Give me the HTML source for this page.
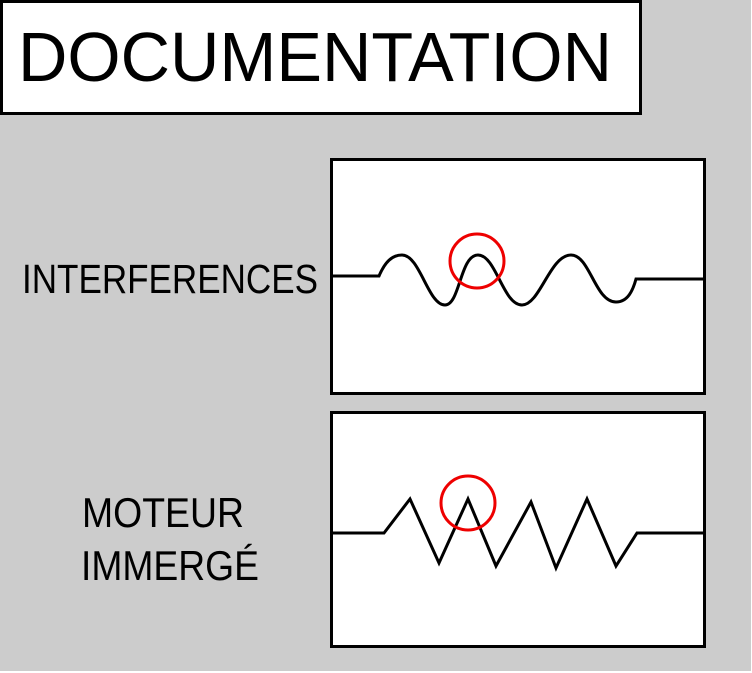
<!DOCTYPE html>
<html><head><style>html,body{margin:0;padding:0;background:#fff}svg{display:block}</style></head>
<body>
<svg width="752" height="673" xmlns="http://www.w3.org/2000/svg">
<rect x="0" y="0" width="751" height="671" fill="#cccccc"/>
<rect x="1.5" y="1.5" width="639" height="112" fill="#fff" stroke="#000" stroke-width="3"/>
<text x="18" y="81" font-family="Liberation Sans, sans-serif" font-size="70" textLength="594" lengthAdjust="spacingAndGlyphs">DOCUMENTATION</text>
<text x="22" y="293" font-family="Liberation Sans, sans-serif" font-size="41" textLength="296" lengthAdjust="spacingAndGlyphs">INTERFERENCES</text>
<text x="82" y="527" font-family="Liberation Sans, sans-serif" font-size="42" textLength="162" lengthAdjust="spacingAndGlyphs">MOTEUR</text>
<text x="81" y="580" font-family="Liberation Sans, sans-serif" font-size="42" textLength="178" lengthAdjust="spacingAndGlyphs">IMMERGÉ</text>
<rect x="331.5" y="159.5" width="373" height="234" fill="#fff" stroke="#000" stroke-width="3"/>
<rect x="331.5" y="412.5" width="373" height="234" fill="#fff" stroke="#000" stroke-width="3"/>
<path d="M331 276 L379 276 C385 262 392 255 402 255 C420 255 428 305 445 305 C460 305 460 255 478 255 C496 255 503 305 522 305 C540 305 550 255 571 255 C590 255 595 302 616 302 C628 302 633 290 636 279 L705 279" fill="none" stroke="#000" stroke-width="3"/>
<circle cx="477" cy="261" r="27" fill="none" stroke="#e00" stroke-width="3"/>
<path d="M331 533 L384 533 L410 499 L439 563 L468 499 L496 566 L531 502 L556 568 L587 499 L616 566 L637 533 L705 533" fill="none" stroke="#000" stroke-width="3"/>
<circle cx="468" cy="503" r="27" fill="none" stroke="#e00" stroke-width="3"/>
</svg>
</body></html>
